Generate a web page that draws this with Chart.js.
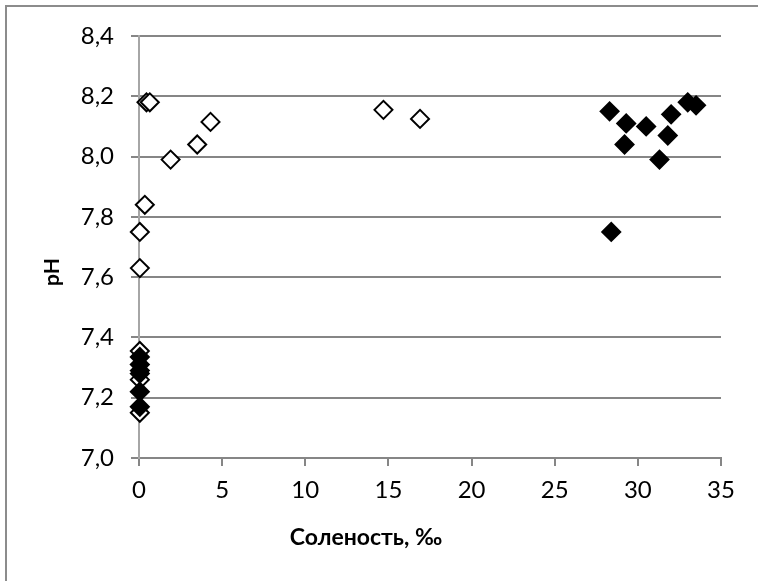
<!DOCTYPE html>
<html>
<head>
<meta charset="utf-8">
<script src="https://cdn.jsdelivr.net/npm/chart.js@4"></script>
<style>
  html, body { margin: 0; padding: 0; background: #fff; overflow: hidden; }
  #wrap { position: relative; width: 758px; height: 581px; }
  #frame { position: absolute; left: 5px; top: 5px; width: 800px; height: 700px;
           border-left: 2px solid #8c8c8c; border-top: 2px solid #8c8c8c; }
  canvas { position: absolute; left: 0; top: 0; }
</style>
</head>
<body>
<div id="wrap">
  <div id="frame"></div>
  <canvas id="myChart" width="758" height="581"></canvas>
</div>
<script>
// marine samples (filled diamonds)
const seaSalinity = [28.3, 29.3, 29.2, 30.5, 32.0, 31.8, 31.3, 33.0, 33.5, 28.4,
                     0.05, 0.05, 0.05, 0.05, 0.05, 0.05];
const seaPH = [8.15, 8.11, 8.04, 8.10, 8.14, 8.07, 7.99, 8.18, 8.17, 7.75,
               7.335, 7.31, 7.29, 7.28, 7.22, 7.17];

// fresh / brackish samples (open diamonds)
const freshSalinity = [0.45, 0.65, 1.9, 3.5, 4.3, 0.35, 0.05, 0.05, 14.7, 16.9,
                       0.05, 0.05, 0.05];
const freshPH = [8.18, 8.18, 7.99, 8.04, 8.115, 7.84, 7.75, 7.63, 8.155, 8.125,
                 7.355, 7.26, 7.15];

const xTicks = [0, 5, 10, 15, 20, 25, 30, 35];
const yTicks = [7.0, 7.2, 7.4, 7.6, 7.8, 8.0, 8.2, 8.4];

const xTitle = 'Соленость, ‰';
const yTitle = 'pH';

const toPoints = (xs, ys) => xs.map((x, i) => ({ x: x, y: ys[i] }));
const comma = v => Number(v).toFixed(1).replace('.', ',');

// axis titles are placed by hand, like in the spreadsheet original
const axisTitles = {
    id: 'axisTitles',
    afterDraw(chart) {
        const c = chart.ctx;
        c.save();
        c.fillStyle = '#000';
        c.textAlign = 'center';
        c.textBaseline = 'middle';
        c.font = 'bold 23px Lato, "Open Sans", sans-serif';
        c.fillText(xTitle, 366, 538);
        c.font = 'bold 21px Lato, "Open Sans", sans-serif';
        c.translate(52, 272);
        c.rotate(-Math.PI / 2);
        c.fillText(yTitle, 0, 0);
        c.restore();
    }
};

const tickFont = { family: 'Lato, "Open Sans", sans-serif', size: 24 };
const gridColor = '#868686';

const ctx = document.getElementById('myChart');
const myChart = new Chart(ctx, {
    type: 'scatter',
    data: {
        datasets: [{
                label: 'sea',
                data: toPoints(seaSalinity, seaPH),
                pointStyle: 'rectRot',
                pointRadius: 9,
                backgroundColor: '#000',
                borderColor: '#000',
                borderWidth: 2,
                clip: false
            },
            {
                label: 'fresh',
                data: toPoints(freshSalinity, freshPH),
                pointStyle: 'rectRot',
                pointRadius: 9,
                backgroundColor: '#fff',
                borderColor: '#000',
                borderWidth: 2,
                clip: false
            }
        ]
    },
    options: {
        responsive: false,
        animation: false,
        layout: {
            padding: { left: 0, top: 36, right: 37, bottom: 0 }
        },
        plugins: {
            legend: { display: false },
            tooltip: { enabled: false }
        },
        scales: {
            x: {
                type: 'linear',
                min: xTicks[0],
                max: xTicks[xTicks.length - 1],
                afterBuildTicks: s => { s.ticks = xTicks.map(v => ({ value: v })); },
                afterFit: s => { s.height = 123; },
                grid: {
                    drawOnChartArea: false,
                    drawTicks: true,
                    tickLength: 8,
                    color: gridColor,
                    lineWidth: 2
                },
                border: { color: gridColor, width: 2 },
                ticks: {
                    font: tickFont,
                    color: '#000',
                    padding: 10,
                    maxRotation: 0
                }
            },
            y: {
                type: 'linear',
                min: yTicks[0],
                max: yTicks[yTicks.length - 1],
                afterBuildTicks: s => { s.ticks = yTicks.map(v => ({ value: v })); },
                afterFit: s => { s.width = 139; },
                grid: {
                    drawTicks: true,
                    tickLength: 8,
                    color: gridColor,
                    lineWidth: 2
                },
                border: { color: '#a6a6a6', width: 2 },
                ticks: {
                    font: tickFont,
                    color: '#000',
                    padding: 17,
                    callback: v => comma(v)
                }
            }
        }
    },
    plugins: [axisTitles]
});
</script>
</body>
</html>
